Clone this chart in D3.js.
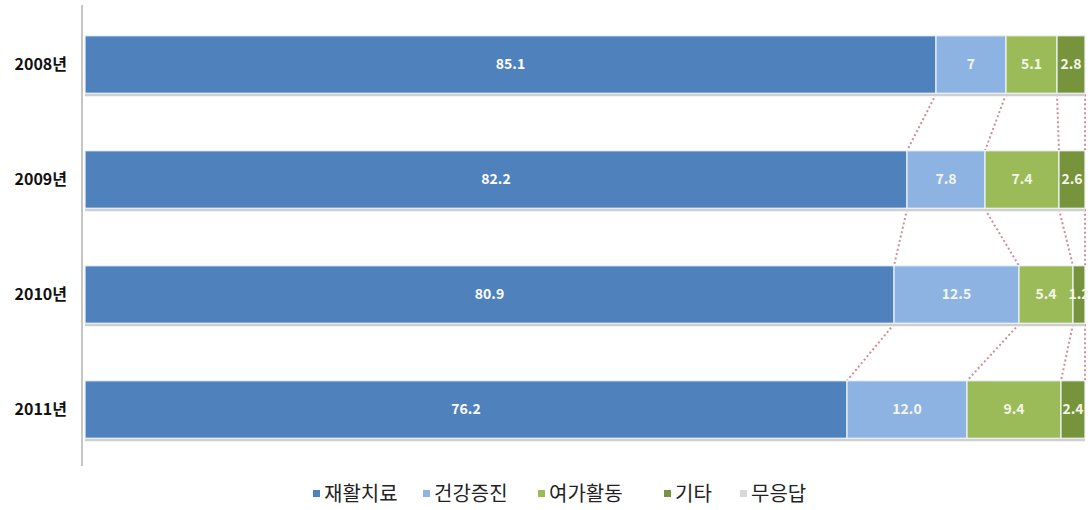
<!DOCTYPE html>
<html>
<head>
<meta charset="utf-8">
<script src="https://cdn.jsdelivr.net/npm/d3@7"></script>
<style>
  body { margin: 0; background: #fff; }
  text { font-family: "Noto Sans CJK KR", "Noto Sans", sans-serif; }
</style>
</head>
<body>
<div id="chart"></div>
<script>
const years = ["2008년", "2009년", "2010년", "2011년"];
const seriesNames = ["재활치료", "건강증진", "여가활동", "기타", "무응답"];
const rehab   = [85.1, 82.2, 80.9, 76.2];
const health  = [7, 7.8, 12.5, 12.0];
const leisure = [5.1, 7.4, 5.4, 9.4];
const other   = [2.8, 2.6, 1.2, 2.4];
const noAns   = [0, 0, 0, 0];
const labels = [
  ["85.1", "7", "5.1", "2.8", ""],
  ["82.2", "7.8", "7.4", "2.6", ""],
  ["80.9", "12.5", "5.4", "1.2", ""],
  ["76.2", "12.0", "9.4", "2.4", ""]
];
const colors = ["#4f81bd", "#8db3e2", "#9bbb59", "#77933c", "#d9d9d9"];

const width = 1088, height = 510;
const svg = d3.select("#chart").append("svg")
  .attr("width", width)
  .attr("height", height);

const table = years.map((y, i) => ({
  year: y, idx: i,
  "재활치료": rehab[i], "건강증진": health[i], "여가활동": leisure[i],
  "기타": other[i], "무응답": noAns[i]
}));

const stacked = d3.stack().keys(seriesNames)(table);

const x = d3.scaleLinear().domain([0, 100]).range([85, 1085]);
const y = d3.scaleBand().domain(years).range([7, 467])
  .paddingInner(0.5).paddingOuter(0.25);

// axis line
svg.append("line")
  .attr("x1", 82).attr("x2", 82)
  .attr("y1", 5).attr("y2", 466)
  .attr("stroke", "#8c8c8c").attr("stroke-width", 1);

// series lines between bars
const lineKeys = seriesNames.slice(0, 4);
lineKeys.forEach((k, si) => {
  for (let i = 0; i < years.length - 1; i++) {
    const x1 = x(stacked[si][i][1]);
    const x2 = x(stacked[si][i + 1][1]);
    svg.append("line")
      .attr("x1", x1).attr("y1", y(years[i]) + y.bandwidth() + 1)
      .attr("x2", x2).attr("y2", y(years[i + 1]))
      .attr("stroke", "#cf8f96")
      .attr("stroke-width", 2)
      .attr("stroke-dasharray", "2,2.5");
  }
});

// bar shadows
svg.selectAll("rect.shadow").data(years).enter().append("rect")
  .attr("class", "shadow")
  .attr("x", x(0)).attr("width", x(100) - x(0))
  .attr("y", d => y(d) + y.bandwidth())
  .attr("height", 3)
  .attr("fill", "#cfcfcf");

const groups = svg.selectAll("g.series").data(stacked).enter().append("g")
  .attr("class", "series")
  .attr("fill", (d, i) => colors[i]);

groups.selectAll("rect").data(d => d).enter().append("rect")
  .attr("x", d => x(d[0]))
  .attr("y", d => y(d.data.year))
  .attr("width", d => Math.max(0, x(d[1]) - x(d[0])))
  .attr("height", y.bandwidth())
  .attr("stroke", "#eef4f8")
  .attr("stroke-width", 1.2);

// value labels
groups.selectAll("text").data((d, si) => d.map(v => ({ v, si }))).enter().append("text")
  .attr("x", d => (x(d.v[0]) + x(d.v[1])) / 2)
  .attr("y", d => y(d.v.data.year) + y.bandwidth() / 2)
  .attr("dy", "0.35em")
  .attr("text-anchor", "middle")
  .attr("fill", d => d.si === 0 ? "#ffffff" : "#f2f6e8")
  .attr("font-size", 14)
  .attr("font-weight", "bold")
  .text(d => labels[d.v.data.idx][d.si]);

// y labels
svg.selectAll("text.ylab").data(years).enter().append("text")
  .attr("class", "ylab")
  .attr("x", 67)
  .attr("y", d => y(d) + y.bandwidth() / 2)
  .attr("dy", "0.35em")
  .attr("text-anchor", "end")
  .attr("font-size", 16)
  .attr("font-weight", "bold")
  .attr("fill", "#111")
  .text(d => d);

// legend
const legendX = [313, 423, 538, 664, 740];
const legend = svg.selectAll("g.legend").data(seriesNames).enter().append("g")
  .attr("class", "legend")
  .attr("transform", (d, i) => `translate(${legendX[i]},494)`);
legend.append("rect")
  .attr("x", 0).attr("y", -4).attr("width", 7).attr("height", 7)
  .attr("fill", (d, i) => colors[i]);
legend.append("text")
  .attr("x", 11).attr("y", 0).attr("dy", "0.35em")
  .attr("font-size", 20)
  .attr("fill", "#222")
  .text(d => d);
</script>
</body>
</html>
